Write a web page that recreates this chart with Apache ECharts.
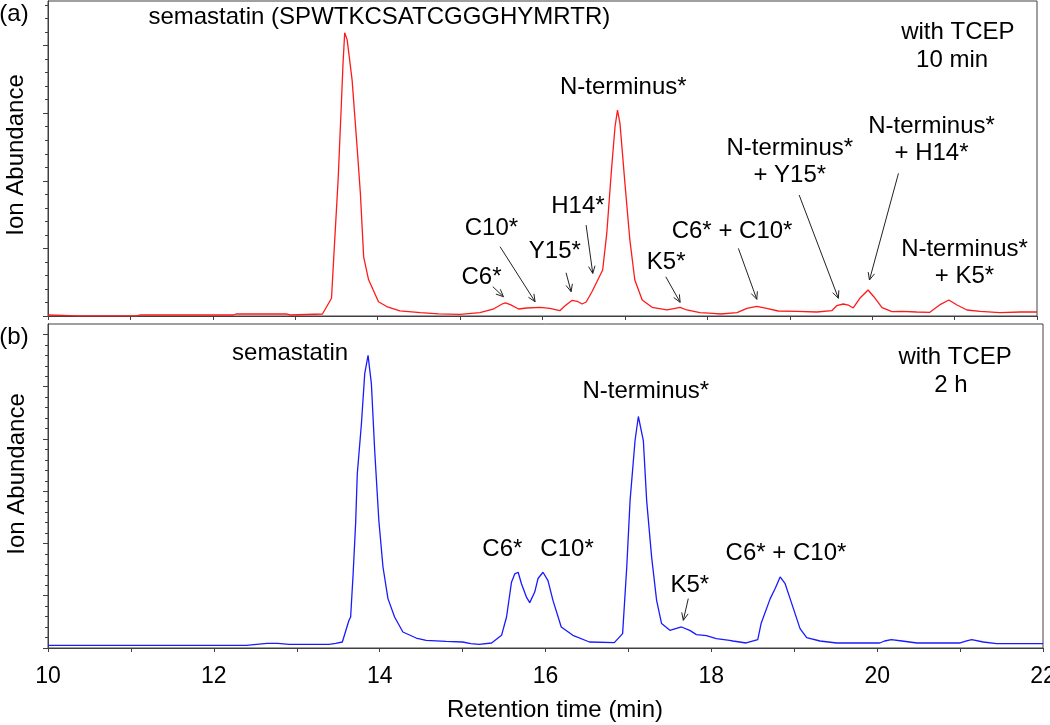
<!DOCTYPE html>
<html><head><meta charset="utf-8">
<script src="https://cdn.jsdelivr.net/npm/echarts@6/dist/echarts.min.js"></script>
<style>html,body{margin:0;padding:0;background:#fff}#c{width:1050px;height:725px}</style>
</head><body><div id="c"></div>
<script>
// ---------- data ----------
const xTickLabels = [10, 12, 14, 16, 18, 20, 22];
const topMajorTicks = [0, 20, 40, 60, 80];
const topMinorTicks = [0, 4, 8, 12, 16, 20, 24, 28, 32, 36, 40, 44, 48, 52, 56, 60, 64, 68, 72, 76, 80, 84, 88, 92];
const botMajorTicks = [0, 10, 20, 30, 40, 50, 60];
const botMinorTicks = [0, 2, 4, 6, 8, 10, 12, 14, 16, 18, 20, 22, 24, 26, 28, 30, 32, 34, 36, 38, 40, 42, 44, 46, 48, 50, 52, 54, 56, 58, 60];

// (a) with TCEP, 10 min — retention time (min) and ion abundance (a.u.)
const redTime = [10.00, 10.35, 11.08, 11.12, 12.25, 12.28, 12.90, 12.94, 13.33, 13.44, 13.47, 13.52, 13.56, 13.58, 13.60, 13.63, 13.69, 13.75, 13.79, 13.83, 13.89, 14.01, 14.11, 14.27, 14.52, 14.74, 15.00, 15.24, 15.40, 15.51, 15.55, 15.61, 15.71, 15.81, 15.97, 16.09, 16.21, 16.27, 16.36, 16.42, 16.48, 16.53, 16.60, 16.66, 16.73, 16.78, 16.84, 16.88, 16.91, 16.94, 17.00, 17.06, 17.12, 17.21, 17.33, 17.51, 17.61, 17.67, 17.75, 17.91, 18.07, 18.16, 18.36, 18.48, 18.60, 18.72, 18.86, 19.09, 19.33, 19.51, 19.57, 19.65, 19.71, 19.77, 19.85, 19.95, 20.02, 20.12, 20.24, 20.36, 20.54, 20.70, 20.83, 20.93, 21.03, 21.15, 21.31, 21.55, 21.80, 22.00];
const redAbund = [0.3, 0.05, 0.05, 0.3, 0.3, 0.59, 0.59, 0.3, 0.59, 5.24, 18.6, 40.2, 63.0, 74.9, 83.8, 81.7, 69.8, 50.1, 36.4, 17.5, 10.7, 4.2, 2.8, 1.5, 1.0, 0.6, 0.5, 1.0, 2.0, 3.55, 3.9, 3.35, 2.07, 2.37, 2.57, 2.28, 1.57, 2.96, 4.64, 4.35, 3.55, 4.14, 7.19, 10.15, 13.6, 24.5, 44.2, 56.0, 60.9, 57.0, 39.3, 22.5, 10.65, 4.73, 2.57, 1.78, 2.28, 2.57, 1.78, 0.98, 0.8, 0.59, 0.98, 2.28, 2.87, 2.28, 1.48, 1.39, 1.18, 1.57, 3.05, 3.55, 3.25, 2.37, 5.24, 7.69, 5.71, 2.46, 1.27, 1.39, 1.18, 1.09, 3.46, 4.73, 3.25, 1.78, 1.39, 0.98, 1.18, 1.18];

// (b) with TCEP, 2 h
const blueTime = [10.00, 12.39, 12.64, 12.77, 12.91, 13.39, 13.47, 13.55, 13.63, 13.65, 13.68, 13.71, 13.73, 13.78, 13.82, 13.86, 13.90, 13.94, 13.99, 14.04, 14.10, 14.18, 14.28, 14.44, 14.56, 14.80, 15.00, 15.10, 15.20, 15.35, 15.47, 15.53, 15.59, 15.63, 15.67, 15.71, 15.77, 15.81, 15.87, 15.91, 15.97, 16.03, 16.09, 16.19, 16.33, 16.53, 16.83, 16.93, 16.98, 17.02, 17.08, 17.12, 17.18, 17.22, 17.28, 17.34, 17.40, 17.50, 17.64, 17.74, 17.82, 17.94, 18.06, 18.22, 18.26, 18.42, 18.56, 18.60, 18.71, 18.77, 18.83, 18.89, 18.95, 19.07, 19.15, 19.31, 19.51, 20.03, 20.09, 20.17, 20.30, 20.48, 21.00, 21.08, 21.14, 21.28, 21.44, 22.00];
const blueAbund = [0.52, 0.52, 0.9, 0.9, 0.71, 0.71, 0.9, 1.15, 5.3, 5.93, 14.2, 23.8, 33.3, 42.9, 52.5, 56.0, 50.6, 37.8, 24.4, 15.5, 9.45, 5.93, 3.06, 1.91, 1.47, 1.28, 1.15, 0.84, 0.71, 0.96, 2.43, 5.93, 12.6, 14.2, 14.5, 12.3, 9.75, 8.68, 10.7, 13.3, 14.5, 12.9, 9.12, 4.02, 2.43, 1.15, 1.03, 2.75, 15.5, 28.2, 39.7, 44.3, 39.7, 28.2, 17.4, 9.12, 4.67, 3.38, 4.02, 3.38, 2.56, 2.37, 1.8, 1.47, 1.34, 0.96, 1.61, 4.67, 9.45, 11.4, 13.6, 12.3, 9.45, 3.71, 1.99, 1.34, 0.96, 0.96, 1.34, 1.61, 1.34, 0.96, 0.96, 1.34, 1.61, 1.15, 0.84, 0.84];

// annotation texts in data coordinates [text, time, abundance]
const topNotes = [
  ['semastatin (SPWTKCSATCGGGHYMRTR)', 14.02, 88.5],
  ['with TCEP', 21.04, 83.9],
  ['10 min', 20.97, 75.7],
  ['N-terminus*', 16.98, 67.6],
  ['C10*', 15.38, 26.0],
  ['C6*', 15.26, 11.5],
  ['Y15*', 16.15, 19.2],
  ['H14*', 16.43, 32.5],
  ['K5*', 17.50, 16.0],
  ['C6* + C10*', 18.30, 24.9],
  ['N-terminus*\n+ Y15*', 19.00, 45.6],
  ['N-terminus*\n+ H14*', 20.72, 52.2],
  ['N-terminus*\n+ K5*', 21.12, 15.8]
];
const botNotes = [
  ['semastatin', 12.92, 56.3],
  ['with TCEP', 20.94, 55.6],
  ['2 h', 20.89, 50.2],
  ['N-terminus*', 17.21, 49.2],
  ['C6*', 15.48, 18.9],
  ['C10*', 16.26, 18.9],
  ['K5*', 17.74, 11.9],
  ['C6* + C10*', 18.90, 18.2]
];
// arrows [t1, v1, t2(tip), v2(tip)]
const topArrows = [
  [15.397, 8.67, 15.526, 5.71],
  [15.485, 20.5, 15.91, 4.23],
  [16.286, 12.8, 16.347, 7.19],
  [16.529, 26.9, 16.61, 12.6],
  [17.496, 11.6, 17.67, 4.05],
  [18.377, 20.0, 18.60, 4.94],
  [19.114, 35.8, 19.59, 5.24],
  [20.319, 42.2, 19.967, 10.65]
];
const botArrows = [
  [17.722, 9.45, 17.662, 5.3]
];

// ---------- chart ----------
const FONT = '"Liberation Sans", Arial, Helvetica, sans-serif';
const AX = '#404040';
const chart = echarts.init(document.getElementById('c'), null, {renderer: 'canvas'});

function xAxisDef(grid, showLabels) {
  return {
    type: 'value', gridIndex: grid, min: 10, max: 22, interval: 1, position: 'bottom',
    axisLine: {show: true, onZero: false, lineStyle: {color: AX, width: 1}},
    axisTick: {show: true, inside: false, length: 4, lineStyle: {color: AX}},
    axisLabel: {
      show: showLabels, margin: 17, color: '#000', fontSize: 23, fontFamily: FONT,
      formatter: v => xTickLabels.includes(v) ? String(v) : ''
    },
    splitLine: {show: false}
  };
}
function yAxisDef(grid, max, ticks, len) {
  return {
    type: 'value', gridIndex: grid, min: 0, max: max, position: 'left', offset: 0,
    axisLine: {show: true, onZero: false, lineStyle: {color: AX, width: 1}},
    axisTick: {show: true, inside: false, length: len, customValues: ticks, lineStyle: {color: AX}},
    axisLabel: {show: false},
    splitLine: {show: false}
  };
}

const TOPMAX = 93.2, BOTMAX = 62;
chart.setOption({
  animation: false,
  backgroundColor: '#fff',
  grid: [
    {left: 48, top: 1, width: 989, height: 315, show: true, borderColor: AX, borderWidth: 1,
     backgroundColor: 'transparent', containLabel: false, outerBoundsMode: 'none'},
    {left: 48, top: 324, width: 995, height: 324, show: true, borderColor: AX, borderWidth: 1,
     backgroundColor: 'transparent', containLabel: false, outerBoundsMode: 'none'}
  ],
  xAxis: [xAxisDef(0, false), xAxisDef(1, true)],
  yAxis: [
    yAxisDef(0, TOPMAX, topMajorTicks, 5),
    yAxisDef(0, TOPMAX, topMinorTicks, 3),
    yAxisDef(1, BOTMAX, botMajorTicks, 5),
    yAxisDef(1, BOTMAX, botMinorTicks, 3)
  ],
  series: [
    {type: 'line', xAxisIndex: 0, yAxisIndex: 0, showSymbol: false, symbol: 'none',
     data: redTime.map((t, i) => [t, redAbund[i]]),
     lineStyle: {color: '#ff1a1a', width: 1.3}, itemStyle: {color: '#ff1a1a'}},
    {type: 'line', xAxisIndex: 1, yAxisIndex: 2, showSymbol: false, symbol: 'none',
     data: blueTime.map((t, i) => [t, blueAbund[i]]),
     lineStyle: {color: '#1a1aff', width: 1.3}, itemStyle: {color: '#1a1aff'}}
  ]
});

// ---------- annotations placed through the axes' scales ----------
const els = [];
function txt(x, y, text, size, rot) {
  els.push({type: 'text', x: x, y: y, rotation: rot || 0, z: 10,
    style: {text: text, fontSize: size, fontFamily: FONT, fill: '#000', align: 'center', verticalAlign: 'middle', lineHeight: 27}});
}
function notes(list, xi, yi) {
  list.forEach(n => {
    const p = chart.convertToPixel({xAxisIndex: xi, yAxisIndex: yi}, [n[1], n[2]]);
    txt(p[0], p[1], n[0], 24);
  });
}
function arrows(list, xi, yi) {
  list.forEach(a => {
    const p1 = chart.convertToPixel({xAxisIndex: xi, yAxisIndex: yi}, [a[0], a[1]]);
    const p2 = chart.convertToPixel({xAxisIndex: xi, yAxisIndex: yi}, [a[2], a[3]]);
    const ang = Math.atan2(p2[1] - p1[1], p2[0] - p1[0]);
    const L = 8, spread = 0.42;
    const h1 = [p2[0] - L * Math.cos(ang - spread), p2[1] - L * Math.sin(ang - spread)];
    const h2 = [p2[0] - L * Math.cos(ang + spread), p2[1] - L * Math.sin(ang + spread)];
    els.push({type: 'polyline', z: 10, shape: {points: [p1, p2]}, style: {stroke: '#222', lineWidth: 1, fill: null}});
    els.push({type: 'polyline', z: 10, shape: {points: [h1, p2, h2]}, style: {stroke: '#222', lineWidth: 1, fill: null}});
  });
}
notes(topNotes, 0, 0);
notes(botNotes, 1, 2);
arrows(topArrows, 0, 0);
arrows(botArrows, 1, 2);
// panel letters and axis titles
txt(14, 14, '(a)', 24);
txt(14, 337, '(b)', 24);
txt(16, 155, 'Ion Abundance', 24, Math.PI / 2);
txt(17, 474, 'Ion Abundance', 24, Math.PI / 2);
txt(555, 710, 'Retention time (min)', 24);
chart.setOption({graphic: {elements: els}});
</script>
</body></html>
